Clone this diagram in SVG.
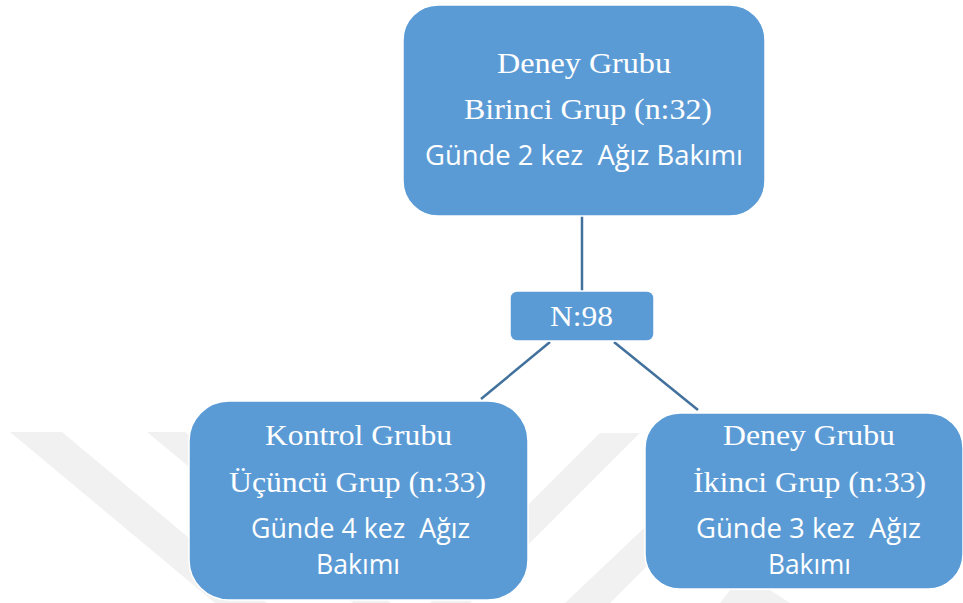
<svg xmlns="http://www.w3.org/2000/svg" width="963" height="603" viewBox="0 0 963 603">
<style>
.box{fill:#5B9BD5;stroke:#ffffff;stroke-width:1.5}
.wm{fill:#f1f1f1}
.conn{stroke:#41719C;stroke-width:2.5;fill:none}
.serif{font-family:"Liberation Serif","Times New Roman",serif;font-size:30px;fill:#ffffff;text-anchor:middle}
.sans{font-family:"Open Sans","Liberation Sans",sans-serif;font-size:28px;fill:#ffffff;text-anchor:middle;white-space:pre}
</style>
<rect width="963" height="603" fill="#ffffff"/>
<g id="watermark">
<polygon class="wm" points="10,432 62,432 267,603 215,603"/>
<polygon class="wm" points="147,432 185,432 391,603 353,603"/>
<polygon class="wm" points="600,433 640,433 470,603 430,603"/>
<polygon class="wm" points="565,603 660,513 700,513 610,603"/>
<polygon class="wm" points="720,603 730,590 770,590 790,603"/>
</g>
<g id="connectors">
<line class="conn" x1="582" y1="216" x2="582" y2="291"/>
<line class="conn" x1="550" y1="342" x2="481" y2="399"/>
<line class="conn" x1="614" y1="342" x2="698" y2="410"/>
</g>
<g id="top">
<rect class="box" x="403" y="5" width="362" height="211" rx="35"/>
<text class="serif" x="584" y="73" textLength="174" lengthAdjust="spacingAndGlyphs">Deney Grubu</text>
<text class="serif" x="588" y="119" textLength="248" lengthAdjust="spacingAndGlyphs">Birinci Grup (n:32)</text>
<text class="sans" x="584" y="165" textLength="318" lengthAdjust="spacingAndGlyphs">Günde 2 kez  Ağız Bakımı</text>
</g>
<g id="total">
<rect class="box" x="510" y="291" width="144" height="50" rx="7"/>
<text class="serif" x="581.5" y="326" textLength="63" lengthAdjust="spacingAndGlyphs">N:98</text>
</g>
<g id="left">
<rect class="box" x="189" y="401" width="339" height="199" rx="40"/>
<text class="serif" x="358.5" y="445" textLength="187" lengthAdjust="spacingAndGlyphs">Kontrol Grubu</text>
<text class="serif" x="357.5" y="492" textLength="257" lengthAdjust="spacingAndGlyphs">Üçüncü Grup (n:33)</text>
<text class="sans" x="360.5" y="538" textLength="219" lengthAdjust="spacingAndGlyphs">Günde 4 kez  Ağız</text>
<text class="sans" x="358" y="574" textLength="84" lengthAdjust="spacingAndGlyphs">Bakımı</text>
</g>
<g id="right">
<rect class="box" x="645" y="413" width="318" height="176" rx="35"/>
<text class="serif" x="809" y="445" textLength="172" lengthAdjust="spacingAndGlyphs">Deney Grubu</text>
<text class="serif" x="809.5" y="492" textLength="233" lengthAdjust="spacingAndGlyphs">İkinci Grup (n:33)</text>
<text class="sans" x="808.5" y="538" textLength="225" lengthAdjust="spacingAndGlyphs">Günde 3 kez  Ağız</text>
<text class="sans" x="809.5" y="574" textLength="83" lengthAdjust="spacingAndGlyphs">Bakımı</text>
</g>
</svg>
